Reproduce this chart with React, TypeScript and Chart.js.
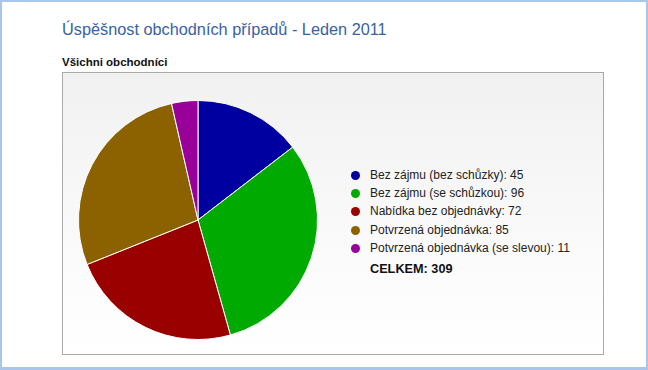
import React, { useEffect, useRef } from "react";
import { Chart, registerables } from "chart.js";

Chart.register(...registerables);

const categories = [
  "Bez zájmu (bez schůzky)",
  "Bez zájmu (se schůzkou)",
  "Nabídka bez objednávky",
  "Potvrzená objednávka",
  "Potvrzená objednávka (se slevou)",
];
const values = [45, 96, 72, 85, 11];
const colors = ["#0000a0", "#00aa00", "#990000", "#8c6200", "#990099"];
const title = "Úspěšnost obchodních případů - Leden 2011";
const subtitle = "Všichni obchodníci";
const totalLabel = "CELKEM";

const FONT = '"Liberation Sans", Arial, sans-serif';

export default function App() {
  const ref = useRef<HTMLCanvasElement | null>(null);

  useEffect(() => {
    if (!ref.current) return;
    const chart = new Chart(ref.current, {
      type: "pie",
      data: {
        labels: categories,
        datasets: [
          {
            data: values,
            backgroundColor: colors,
            borderColor: "#ffffff",
            borderWidth: 1,
          },
        ],
      },
      options: {
        responsive: false,
        maintainAspectRatio: false,
        animation: false,
        layout: { padding: 0 },
        plugins: {
          legend: { display: false },
          tooltip: { enabled: false },
          title: { display: false },
        },
      },
    });
    return () => chart.destroy();
  }, []);

  const total = values.reduce((a, b) => a + b, 0);

  return (
    <div
      style={{
        position: "fixed",
        left: 0,
        top: 0,
        width: 648,
        height: 370,
        background: "#ffffff",
        fontFamily: FONT,
        overflow: "hidden",
      }}
    >
      <div
        style={{
          position: "absolute",
          left: 0,
          top: 0,
          width: 648,
          height: 370,
          boxSizing: "border-box",
          borderTop: "2px solid #a9c5ec",
          borderLeft: "2px solid #a9c5ec",
          borderRight: "2px solid #a9c5ec",
          borderBottom: "3px solid #a9c5ec",
        }}
      />
      <div
        style={{
          position: "absolute",
          left: 62,
          top: 21,
          fontSize: 16.3,
          lineHeight: "16.3px",
          color: "#3862a3",
          whiteSpace: "nowrap",
        }}
      >
        {title}
      </div>
      <div
        style={{
          position: "absolute",
          left: 62,
          top: 56,
          fontSize: 11.5,
          lineHeight: "12px",
          fontWeight: "bold",
          color: "#111",
          whiteSpace: "nowrap",
        }}
      >
        {subtitle}
      </div>
      <div
        style={{
          position: "absolute",
          left: 62,
          top: 72,
          width: 542,
          height: 283,
          boxSizing: "border-box",
          border: "1px solid #aaaaaa",
          background: "linear-gradient(to bottom, #f1f1f1 0%, #fafafa 60%, #ffffff 100%)",
        }}
      />
      <canvas
        ref={ref}
        width={240}
        height={240}
        style={{ position: "absolute", left: 78, top: 100, width: 240, height: 240 }}
      />
      {categories.map((c, i) => (
        <div
          key={c}
          style={{
            position: "absolute",
            left: 351,
            top: 166 + i * 18.2,
            height: 18,
            lineHeight: "18px",
            fontSize: 12,
            color: "#222",
            whiteSpace: "nowrap",
          }}
        >
          <span
            style={{
              position: "absolute",
              left: 0,
              top: 5,
              width: 9,
              height: 9,
              borderRadius: "50%",
              background: colors[i],
            }}
          />
          <span style={{ position: "absolute", left: 19, top: 0 }}>
            {c}: {values[i]}
          </span>
        </div>
      ))}
      <div
        style={{
          position: "absolute",
          left: 370,
          top: 260,
          fontSize: 12.7,
          lineHeight: "18px",
          fontWeight: "bold",
          color: "#111",
          whiteSpace: "nowrap",
        }}
      >
        {totalLabel}: {total}
      </div>
    </div>
  );
}
